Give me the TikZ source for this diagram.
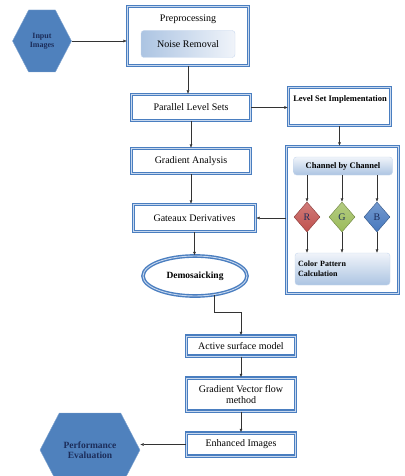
\documentclass[tikz,border=0pt]{standalone}
\usepackage{fontspec}
\setmainfont{Liberation Serif}
\usetikzlibrary{shapes.geometric,shapes.symbols,arrows.meta}
\definecolor{boxblue}{RGB}{74,126,192}
\definecolor{boxlight}{RGB}{200,216,238}
\definecolor{hexblue}{RGB}{79,129,189}
\definecolor{navy}{RGB}{28,45,90}
\definecolor{softtop}{RGB}{240,244,250}
\definecolor{softbot}{RGB}{172,196,226}
\definecolor{dred}{RGB}{192,80,77}
\definecolor{dgreen}{RGB}{155,187,89}
\definecolor{dblue}{RGB}{70,120,190}
\begin{document}
\begin{tikzpicture}[x=1pt, y=-1pt, font=\fontsize{10}{11}\selectfont,
	framed/.style={draw=boxblue, double=boxlight, double distance=.9pt, line width=1.4pt, fill=white, inner sep=0pt, align=center},
	hexa/.style={signal, signal to=east and west, signal pointer angle=125, fill=hexblue, draw=hexblue!70!white, text=navy, font=\fontsize{9.5}{10.5}\selectfont\bfseries, align=center, inner sep=0pt},
	soft/.style={rounded corners=3pt, draw=boxlight, top color=softtop, bottom color=softbot, inner sep=0pt},
	gem/.style={diamond, aspect=.87, minimum width=26pt, minimum height=30pt, inner sep=0pt, draw=#1!70!black, top color=#1!75!white, bottom color=#1, text=navy},
	flow/.style={-{Latex[length=3.5pt,width=3pt]}, thin, black!80}]
\useasboundingbox (0,0) rectangle (404,476);
\clip (0,0) rectangle (404,476);
\node [hexa, minimum width=59pt, minimum height=62pt, font=\fontsize{8}{9}\selectfont\bfseries] (inp) at (42,41) {Input\\Images};
\node [framed, minimum width=121pt, minimum height=59pt] (prep) at (188,36) {};
\node (preptext) at (188,19) {Preprocessing};
\node [soft, left color=softbot, right color=softtop, minimum width=94pt, minimum height=27pt] (noise) at (188,44) {Noise Removal};
\node [framed, minimum width=119pt, minimum height=26pt] (par) at (191,107.5) {Parallel Level Sets};
\node [framed, minimum width=119pt, minimum height=25pt] (grad) at (191,161) {Gradient Analysis};
\node [framed, minimum width=122pt, minimum height=27pt] (gat) at (194.5,218) {Gateaux Derivatives};
\node [framed, ellipse, minimum width=104pt, minimum height=40pt, font=\fontsize{9.5}{10.5}\selectfont\bfseries] (demo) at (195,276) {Demosaicking};
\node [framed, minimum width=102pt, minimum height=38pt] (lsi) at (339.5,106.5) {};
\node [font=\fontsize{8.5}{9.5}\selectfont\bfseries] (lsitext) at (340,99) {Level Set Implementation};
\node [framed, minimum width=112pt, minimum height=147pt] (cont) at (342.5,220) {};
\node [soft, minimum width=99pt, minimum height=18pt, font=\fontsize{8.5}{9.5}\selectfont\bfseries] (chan) at (343,166) {Channel by Channel};
\node [gem=dred] (r) at (307,217) {R};
\node [gem=dgreen] (g) at (342,217) {G};
\node [gem=dblue] (b) at (377,217) {B};
\node [soft, minimum width=95pt, minimum height=32pt, text width=89pt, align=left, font=\fontsize{8}{9.5}\selectfont\bfseries] (color) at (342.5,269) {Color Pattern\\Calculation};
\node [framed, minimum width=109pt, minimum height=20pt] (act) at (241,346) {Active surface model};
\node [framed, minimum width=109pt, minimum height=33pt] (gvf) at (241,394.5) {Gradient Vector flow\\method};
\node [framed, minimum width=109pt, minimum height=23pt] (enh) at (241,444.5) {Enhanced Images};
\node [hexa, minimum width=100pt, minimum height=74pt] (perf) at (90,450) {Performance\\Evaluation};
\draw [flow] (inp.east) -- (inp.east -| prep.west);
\draw [flow] (prep.south) -- (prep.south |- par.north);
\draw [flow] (par.south) -- (grad.north);
\draw [flow] (grad.south) -- (grad.south |- gat.north);
\draw [flow] (gat.south) -- (gat.south |- demo.north);
\draw [flow] (demo.-45) -- ++(0,17) -| (act.north);
\draw [flow] (act.south) -- (gvf.north);
\draw [flow] (gvf.south) -- (enh.north);
\draw [flow] (enh.west) -- (enh.west -| perf.east);
\draw [flow] (par.east) -- (par.east -| lsi.west);
\draw [flow] (lsi.south) -- (lsi.south |- cont.north);
\draw [flow] (gat.east -| cont.west) -- (gat.east);
\foreach \c in {r,g,b}{
	\draw [flow] (\c.north |- chan.south) -- (\c.north);
	\draw [flow] (\c.south) -- (\c.south |- color.north);
}
\end{tikzpicture}
\end{document}
